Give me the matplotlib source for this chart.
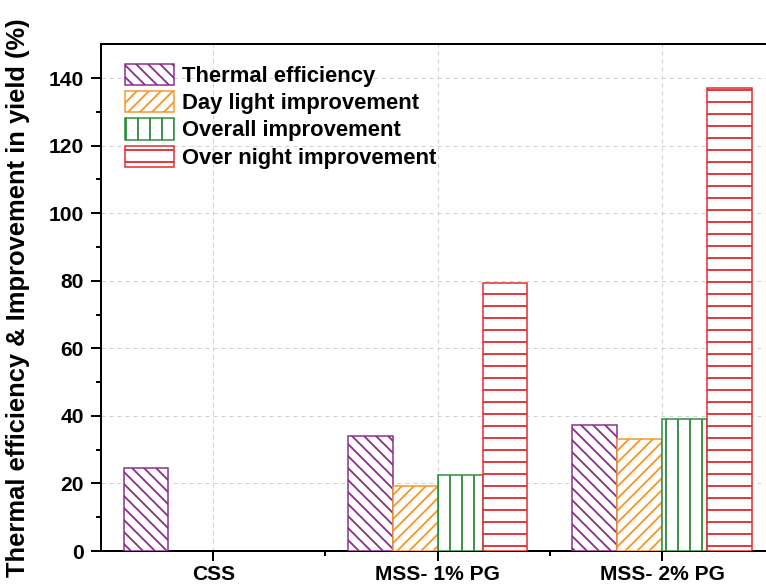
import numpy as np
import matplotlib
matplotlib.use("Agg")
import matplotlib.pyplot as plt

# values (CSS has only a thermal efficiency bar)
categories = ["CSS", "MSS- 1% PG", "MSS- 2% PG"]
thermal = [24.7, 34.0, 37.4]
daylight = [np.nan, 19.3, 33.1]
overall = [np.nan, 22.6, 39.2]
overnight = [np.nan, 79.2, 137.0]

labels = ["Thermal efficiency", "Day light improvement",
          "Overall improvement", "Over night improvement"]
colors = ["#8B2C8C", "#F2962E", "#2B8A3A", "#E3262B"]
hatches = ["\\\\", "//", "|", "-"]

plt.rcParams['font.family'] = ['Liberation Sans', 'DejaVu Sans']
plt.rcParams['font.weight'] = 'bold'
plt.rcParams['hatch.linewidth'] = 1.8

dpi = 72
fig = plt.figure(figsize=(766 / dpi, 587 / dpi), dpi=dpi)
ax = fig.add_axes([0.132, 0.0613, 0.87, 0.8632])

x = np.arange(len(categories))
w = 0.2
series = [thermal, daylight, overall, overnight]
for i, vals in enumerate(series):
    ax.bar(x - 0.3 + i * w, vals, w, facecolor="white", edgecolor=colors[i],
           hatch=hatches[i], linewidth=1.5, label=labels[i], zorder=3)

ax.set_xlim(-0.5, 2.47)
ax.set_ylim(0, 150)
ax.set_xticks(x)
ax.set_xticklabels(categories, fontsize=21, fontweight='bold')
ax.set_xticks([0.5, 1.5], minor=True)
ax.set_yticks(np.arange(0, 141, 20))
ax.set_yticks(np.arange(10, 150, 20), minor=True)
ax.tick_params(axis='y', labelsize=21, pad=7)
ax.tick_params(axis='x', pad=4)
ax.tick_params(which='major', direction='out', length=10, width=2)
ax.tick_params(which='minor', direction='out', length=5, width=2)
for s in ax.spines.values():
    s.set_linewidth(2)
ax.spines['right'].set_visible(False)

ax.grid(True, which='major', linestyle=(0, (4, 4)), color="#d0d0d0", linewidth=1, zorder=0)
ax.set_axisbelow(True)

ax.set_ylabel("Thermal efficiency & Improvement in yield (%)", fontsize=25.5,
              fontweight='bold')
ax.yaxis.set_label_coords(-0.106, 0.5)

ax.legend(loc='upper left', bbox_to_anchor=(0.036, 0.962), frameon=False,
          fontsize=22, handlelength=2.23, handleheight=1.1,
          labelspacing=0.2, handletextpad=0.36, borderpad=0, borderaxespad=0)

fig.savefig("out.png", dpi=dpi)
